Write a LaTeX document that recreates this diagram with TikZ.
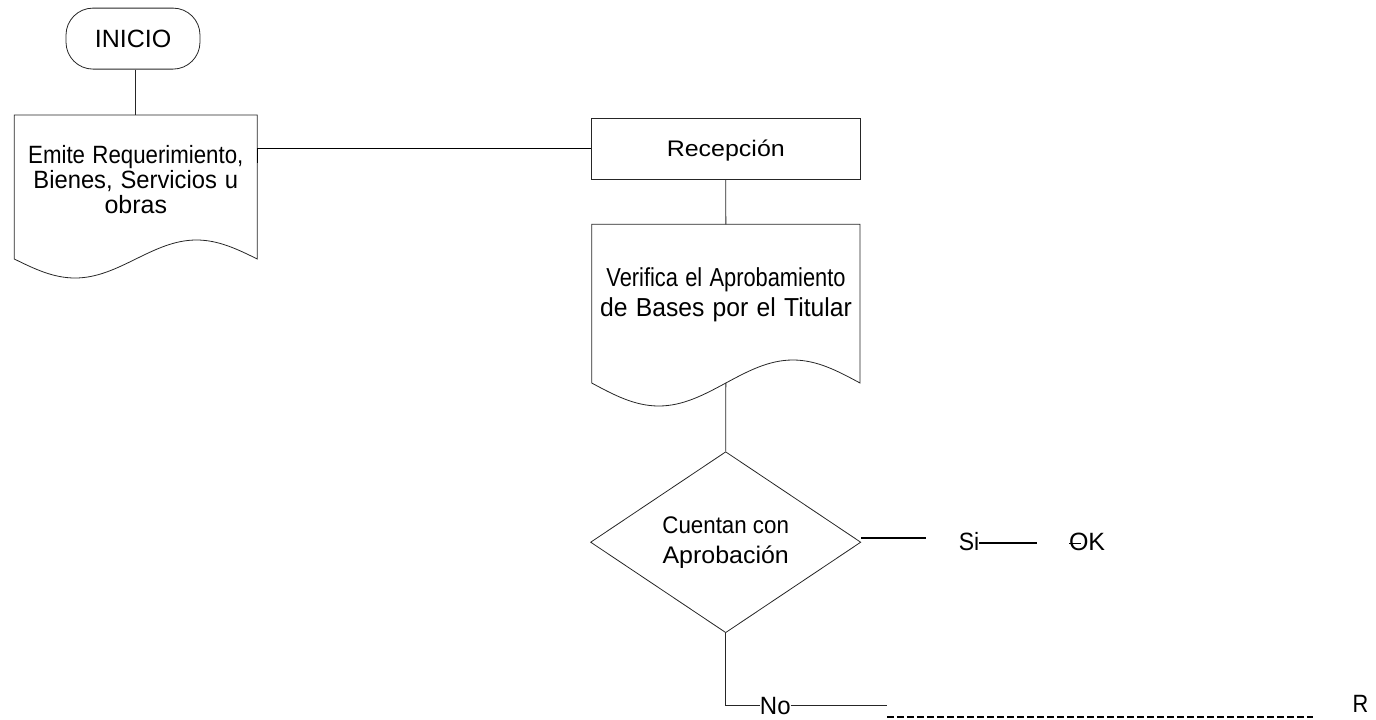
\documentclass[tikz,border=0pt]{standalone}
\usepackage{fontspec}
\setmainfont{Liberation Sans}
\usetikzlibrary{shapes.geometric,calc}
% horizontal-only scaling of a piece of text
\newcommand{\hsq}[2]{\scalebox{#1}[1]{#2}}
\begin{document}
\begin{tikzpicture}[x=1pt,y=-1pt,
  outline/.style={draw=black!85, line width=0.8pt},
  link/.style={draw=black!85, line width=0.8pt},
  darklink/.style={draw=black, line width=1.2pt},
  boldlink/.style={draw=black, line width=1.9pt},
  dotlink/.style={draw=black, line width=2pt, dash pattern=on 6.5pt off 3.5pt},
  docframe/.style={inner sep=0pt, outer sep=0pt, anchor=north west},
  doctext/.style={inner sep=0pt, anchor=base, align=center, text width=#1},
  lbl/.style={inner sep=0pt, outer sep=0pt, anchor=base, font=\fontsize{25}{30}\selectfont},
]
\useasboundingbox (0,0) rectangle (1376,720);

% start terminal
\node[outline, rounded corners=27pt, minimum width=134pt, minimum height=61pt,
      inner sep=0pt, font=\fontsize{25}{30}\selectfont] (inicio) at (133,38.6) {INICIO};

% first document
\node[docframe, minimum width=243pt, minimum height=144pt] (emite) at (14.3,115) {};
\draw[outline] (emite.south east) -- (emite.north east) -- (emite.north west) -- (emite.south west)
  sin ($(emite.south west)+(60.75,19)$) cos (emite.south)
  sin ($(emite.south)+(60.75,-19)$) cos (emite.south east) -- cycle;
\node[doctext=240pt, font=\fontsize{25}{25}\selectfont] (emite-t) at (135.8,163)
  {\hsq{0.89}{Emite Requerimiento,}\\\hsq{0.95}{Bienes, Servicios u}\\obras};

% reception box
\node[outline, minimum width=268.3pt, minimum height=60.7pt, inner sep=0pt, text depth=0pt,
      font=\fontsize{22.5}{27}\selectfont] (recep) at (725.8,148.7) {\hsq{1.11}{Recepción}};

% second document
\node[docframe, minimum width=268.3pt, minimum height=158.7pt] (verif) at (591.7,224.3) {};
\draw[outline] (verif.south east) -- (verif.north east) -- (verif.north west) -- (verif.south west)
  sin ($(verif.south west)+(67.1,23)$) cos (verif.south)
  sin ($(verif.south)+(67.1,-23)$) cos (verif.south east) -- cycle;
\node[doctext=266pt, font=\fontsize{26}{30}\selectfont] (verif-t) at (726,286.7)
  {\hsq{0.84}{Verifica el Aprobamiento}\\\hsq{0.95}{de Bases por el Titular}};

% decision
\node[outline, diamond, minimum width=270.3pt, minimum height=181pt, inner sep=0pt,
      align=center, font=\fontsize{24}{30}\selectfont] (dec) at (725.7,542.2)
  {\hsq{0.93}{Cuentan con}\\\hsq{1.04}{Aprobación}};

% labels
\node[lbl] (si) at (969,550) {\hsq{0.92}{Si}};
\node[lbl, anchor=base west] (ok) at (1069,550) {OK};
\node[lbl] (no) at (775.3,714.3) {\hsq{0.96}{No}};
\node[lbl] (r) at (1360.5,712.7) {\hsq{0.87}{R}};

% free line ends
\coordinate (yesend) at (925.7,538.2);
\coordinate (sistop) at (1037.3,543);
\coordinate (noend) at (886.7,706);
\coordinate (dashA) at (887.3,717.3);
\coordinate (dashB) at (1313.3,717.3);

% connectors
\draw[link] (emite.north |- inicio.south) -- (emite.north);
\draw[darklink] ($(emite.north east)+(0,48)$) -- (emite.north east |- recep.west) -- (recep.west);
\draw[link] (recep.south) -- (verif.north);
\draw[link] (verif.south) -- (dec.north);
\draw[boldlink] (dec.east |- yesend) -- (yesend);
\draw[darklink] (si.east |- sistop) -- (sistop);
\draw[link, draw=black] (ok.west |- sistop) -- ++(12,0);
\draw[link] (dec.south) |- (no.west);
\draw[link] (no.east) -- (no.east -| noend);
\draw[dotlink] (dashA) -- (dashB);
\end{tikzpicture}
\end{document}
